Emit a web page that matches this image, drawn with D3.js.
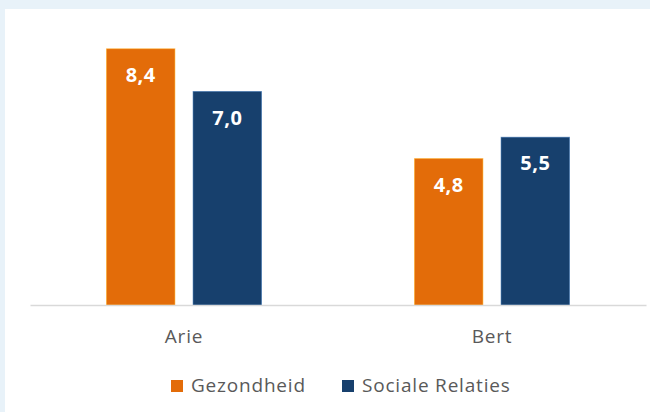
<!DOCTYPE html>
<html>
<head>
<meta charset="utf-8">
<script src="https://cdn.jsdelivr.net/npm/d3@7"></script>
<style>
  html, body { margin: 0; padding: 0; background: #e8f2f9; }
  #chart { position: absolute; left: 5px; top: 9px; width: 645px; height: 403px; background: #ffffff; }
  svg { display: block; }
</style>
</head>
<body>
<div id="chart"></div>
<script>
// data
const categories = ['Arie', 'Bert'];
const seriesNames = ['Gezondheid', 'Sociale Relaties'];
const gezondheid = [8.4, 4.8];
const socialeRelaties = [7.0, 5.5];

const chart = {};

chart.create = function(){
  this.width_svg = 650;
  this.height_svg = 412;
  this.margin = {top: 30.5, right: 4, bottom: 107, left: 30};
  this.colorRule = {
    'Gezondheid': '#e36c09',
    'Sociale Relaties': '#17406d'
  };
  // svg over whole window, panel is the white div behind it
  this.svg = d3.select('body')
    .append('svg')
    .attr('width', this.width_svg)
    .attr('height', this.height_svg)
    .style('position', 'absolute')
    .style('left', 0)
    .style('top', 0);
  this.update();
};

chart.update = function(){
  let margin = this.margin,
      width_svg = this.width_svg,
      height_svg = this.height_svg,
      colorRule = this.colorRule,
      svg = this.svg;
  let font = '"Open Sans", "Noto Sans", sans-serif';

  let data = categories.map((c, i) => ({
    name: c,
    values: [
      {key: seriesNames[0], value: gezondheid[i]},
      {key: seriesNames[1], value: socialeRelaties[i]}
    ]
  }));

  let x0 = d3.scaleBand()
    .domain(categories)
    .range([margin.left, width_svg - margin.right])
    .paddingInner(0)
    .paddingOuter(0);
  let x1 = d3.scaleBand()
    .domain(seriesNames)
    .range([0, 155])
    .paddingInner(0.21);
  let yScale = d3.scaleLinear()
    .domain([0, 9])
    .range([height_svg - margin.bottom, margin.top]);

  // bars
  let groups = svg.append('g')
    .selectAll('g')
    .data(data)
    .enter().append('g')
    .attr('transform', d => `translate(${x0(d.name) + (x0.bandwidth() - 155) / 2}, 0)`);

  groups.selectAll('rect')
    .data(d => d.values)
    .enter().append('rect')
    .attr('x', d => x1(d.key))
    .attr('y', d => yScale(d.value))
    .attr('width', x1.bandwidth())
    .attr('height', d => yScale(0) - yScale(d.value))
    .attr('fill', d => colorRule[d.key])
    .attr('stroke', d => d3.color(colorRule[d.key]).brighter(1.2))
    .attr('stroke-opacity', 0.5)
    .attr('stroke-width', 1);

  groups.selectAll('text')
    .data(d => d.values)
    .enter().append('text')
    .attr('x', d => x1(d.key) + x1.bandwidth() / 2)
    .attr('y', d => yScale(d.value) + 33)
    .attr('text-anchor', 'middle')
    .attr('fill', '#ffffff')
    .attr('font-family', font)
    .attr('font-weight', 'bold')
    .attr('font-size', '20px')
    .attr('letter-spacing', '0.5px')
    .text(d => d3.format('.1f')(d.value).replace('.', ','));

  // x axis
  let xAxis = g => g.attr('transform', `translate(0, ${yScale(0)})`)
    .call(d3.axisBottom(x0).tickSize(0).tickPadding(24.5))
    .call(g => g.select('.domain').attr('stroke', '#d9d9d9').attr('stroke-width', 1.5))
    .call(g => g.selectAll('.tick text')
      .attr('fill', '#595959')
      .attr('font-family', font)
      .attr('font-size', '19px')
      .attr('letter-spacing', '0.8px'));
  svg.append('g').call(xAxis);

  // legend
  let legend = svg.append('g').attr('transform', 'translate(171, 392)');
  let legendX = [0, 171];
  legend.selectAll('rect')
    .data(seriesNames)
    .enter().append('rect')
    .attr('x', (d, i) => legendX[i])
    .attr('y', -12)
    .attr('width', 12)
    .attr('height', 12)
    .attr('fill', d => colorRule[d]);
  legend.selectAll('text')
    .data(seriesNames)
    .enter().append('text')
    .attr('x', (d, i) => legendX[i] + 20)
    .attr('y', 0)
    .attr('fill', '#595959')
    .attr('font-family', font)
    .attr('font-size', '19px')
    .attr('letter-spacing', '0.8px')
    .text(d => d);
};

chart.create();
</script>
</body>
</html>
